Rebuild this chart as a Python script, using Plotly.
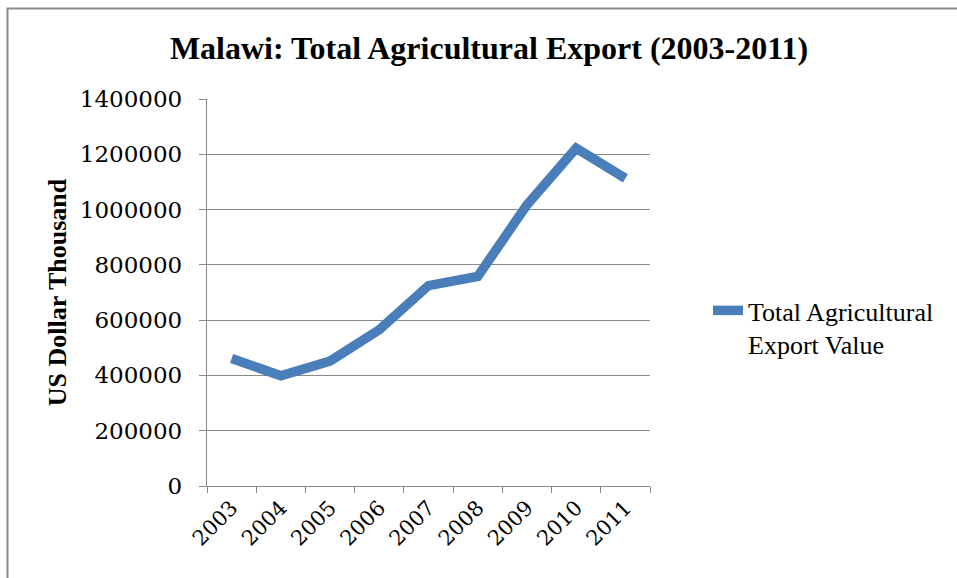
import plotly.graph_objects as go

# Malawi total agricultural export value, US$ thousand
years = ["2003", "2004", "2005", "2006", "2007", "2008", "2009", "2010", "2011"]
export_value = [461000, 399000, 452000, 565000, 725000, 758000, 1017000, 1222000, 1113000]
y_ticks = [0, 200000, 400000, 600000, 800000, 1000000, 1200000, 1400000]

series_name = "Total Agricultural<br>Export Value"
line_color = "#4A7EBB"
grid_color = "#8A8A8A"

W, H = 957, 578
L, R, T, B = 207, 307, 99, 92

fig = go.Figure()
fig.add_trace(go.Scatter(
    x=years, y=export_value, mode="lines", name=series_name,
    line=dict(color=line_color, width=9.5),
    showlegend=True,
))

# outer chart frame (top/left edges visible, right/bottom run off the page)
pw, ph = W - L - R, H - T - B
fx0 = (7.5 - L) / pw
fy1 = (H - B - 8.5) / ph
fig.add_shape(type="rect", xref="paper", yref="paper",
              x0=fx0, x1=3, y0=-2, y1=fy1,
              line=dict(color="#8C8C8C", width=2), layer="below")

fig.update_layout(
    width=W, height=H,
    margin=dict(l=L, r=R, t=T, b=B, autoexpand=False),
    paper_bgcolor="white", plot_bgcolor="white",
    title=dict(
        text="<b>Malawi: Total Agricultural Export (2003-2011)</b>",
        font=dict(family="Liberation Serif", size=32, color="black"),
        x=489 / W, xanchor="center", y=1 - 48 / H, yanchor="middle",
    ),
    legend=dict(
        x=(708 - L) / pw, xanchor="left",
        y=(H - B - 287) / ph, yanchor="top",
        valign="top", tracegroupgap=0,
        font=dict(family="Liberation Serif", size=26, color="black"),
        bgcolor="rgba(0,0,0,0)",
    ),
    xaxis=dict(
        type="category", range=[-0.5, 8.5],
        tickson="boundaries", ticks="outside", ticklen=6, tickwidth=1.3,
        tickcolor=grid_color, showline=True, linecolor=grid_color, linewidth=1.3,
        showgrid=False, tickangle=-45,
        tickfont=dict(family="DejaVu Serif", size=21, color="black"),
        fixedrange=True,
    ),
    yaxis=dict(
        range=[0, 1400000], tickvals=y_ticks, ticktext=[str(v) for v in y_ticks],
        ticks="outside", ticklen=7, tickwidth=1.3, tickcolor=grid_color,
        showline=True, linecolor=grid_color, linewidth=1.3,
        showgrid=True, gridcolor=grid_color, gridwidth=1.3,
        zeroline=False, ticklabelstandoff=12,
        tickfont=dict(family="DejaVu Serif", size=23, color="black"),
        title=dict(text="<b>US Dollar Thousand</b>", standoff=5,
                   font=dict(family="Liberation Serif", size=26, color="black")),
        fixedrange=True,
    ),
)

fig.write_html("out.html")
